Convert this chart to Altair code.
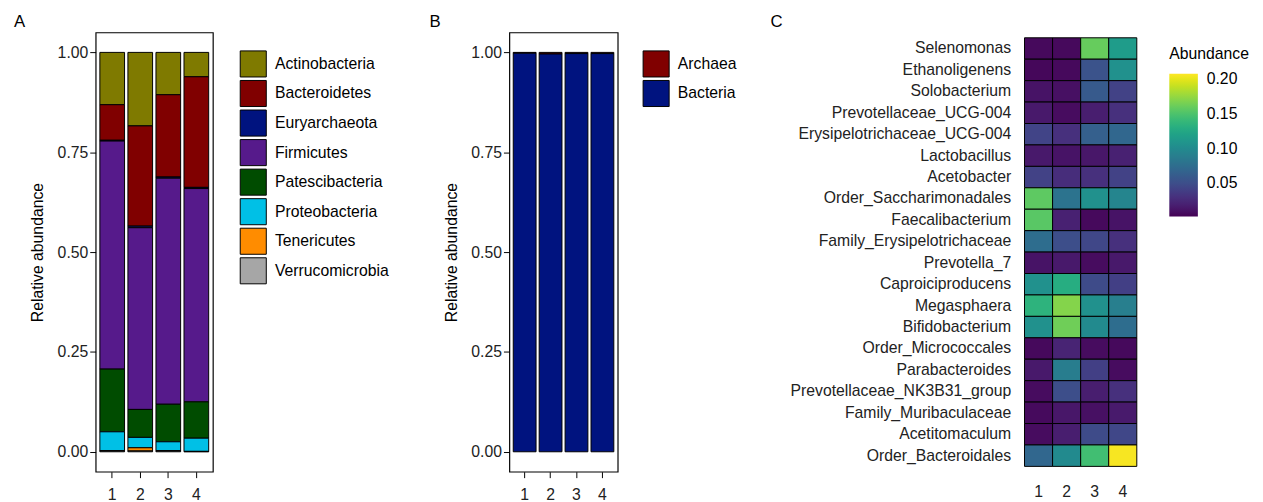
import altair as alt
import pandas as pd

samples = ["1", "2", "3", "4"]

# Panel A: phylum relative abundance (stack bottom -> top is reverse of list)
phyla = ["Actinobacteria", "Bacteroidetes", "Euryarchaeota", "Firmicutes",
         "Patescibacteria", "Proteobacteria", "Tenericutes", "Verrucomicrobia"]
phylum_colors = ["#7f7a00", "#800000", "#00137f", "#561a8b",
                 "#004c00", "#00c0e6", "#ff8c00", "#a6a6a6"]
actinobacteria = [0.131, 0.184, 0.106, 0.061]
bacteroidetes = [0.089, 0.251, 0.206, 0.277]
euryarchaeota = [0.002, 0.004, 0.003, 0.003]
firmicutes = [0.571, 0.455, 0.566, 0.534]
patescibacteria = [0.157, 0.070, 0.094, 0.091]
proteobacteria = [0.047, 0.026, 0.022, 0.033]
tenericutes = [0.001, 0.008, 0.001, 0.0005]
verrucomicrobia = [0.002, 0.002, 0.002, 0.0005]
phylum_values = [actinobacteria, bacteroidetes, euryarchaeota, firmicutes,
                 patescibacteria, proteobacteria, tenericutes, verrucomicrobia]

# Panel B: domain relative abundance
kingdoms = ["Archaea", "Bacteria"]
kingdom_colors = ["#800000", "#00137f"]
archaea = [0.002, 0.004, 0.003, 0.003]
bacteria = [0.998, 0.996, 0.997, 0.997]

# Panel C: genus heatmap
genera = ["Selenomonas", "Ethanoligenens", "Solobacterium", "Prevotellaceae_UCG-004",
          "Erysipelotrichaceae_UCG-004", "Lactobacillus", "Acetobacter",
          "Order_Saccharimonadales", "Faecalibacterium", "Family_Erysipelotrichaceae",
          "Prevotella_7", "Caproiciproducens", "Megasphaera", "Bifidobacterium",
          "Order_Micrococcales", "Parabacteroides", "Prevotellaceae_NK3B31_group",
          "Family_Muribaculaceae", "Acetitomaculum", "Order_Bacteroidales"]
abund_s1 = [0.006, 0.005, 0.012, 0.015, 0.043, 0.015, 0.042, 0.157, 0.155, 0.075,
            0.012, 0.105, 0.135, 0.105, 0.006, 0.015, 0.008, 0.007, 0.008, 0.070]
abund_s2 = [0.006, 0.006, 0.010, 0.008, 0.030, 0.012, 0.028, 0.080, 0.020, 0.050,
            0.015, 0.130, 0.170, 0.163, 0.022, 0.088, 0.050, 0.014, 0.018, 0.100]
abund_s3 = [0.160, 0.054, 0.060, 0.018, 0.064, 0.014, 0.030, 0.105, 0.006, 0.045,
            0.008, 0.048, 0.105, 0.100, 0.008, 0.040, 0.018, 0.010, 0.048, 0.145]
abund_s4 = [0.115, 0.105, 0.042, 0.030, 0.070, 0.020, 0.042, 0.095, 0.012, 0.030,
            0.015, 0.040, 0.090, 0.075, 0.006, 0.008, 0.030, 0.016, 0.045, 0.206]
abund_cols = [abund_s1, abund_s2, abund_s3, abund_s4]
legend_ticks = [0.05, 0.10, 0.15, 0.20]

FONT = "Liberation Sans"
TXT = "#222222"

rowsA = []
for i, (p, vals) in enumerate(zip(phyla, phylum_values)):
    for s, v in zip(samples, vals):
        rowsA.append({"Sample": s, "Phylum": p, "value": v, "ord": len(phyla) - i})
dfA = pd.DataFrame(rowsA)

rowsB = []
for i, (k, vals) in enumerate(zip(kingdoms, [archaea, bacteria])):
    for s, v in zip(samples, vals):
        rowsB.append({"Sample": s, "Kingdom": k, "value": v, "ord": len(kingdoms) - i})
dfB = pd.DataFrame(rowsB)

rowsC = []
for s, col in zip(samples, abund_cols):
    for g, v in zip(genera, col):
        rowsC.append({"Sample": s, "Genus": g, "Abundance": v})
dfC = pd.DataFrame(rowsC)


def y_axis():
    return alt.Axis(values=[0, 0.25, 0.5, 0.75, 1], format=".2f", title="Relative abundance",
                    titleFontSize=16, titleFontWeight="normal", titleColor="black",
                    labelFontSize=16, labelColor=TXT, tickSize=6, tickColor="black",
                    labelPadding=2, titlePadding=12, domain=False, grid=False)


def x_axis():
    return alt.Axis(title=None, labelAngle=0, labelFontSize=16, labelColor=TXT,
                    tickSize=6, tickColor="black", labelPadding=9, domain=False, grid=False)


def cat_legend(offset):
    return alt.Legend(title=None, symbolType="square", symbolSize=700,
                      symbolStrokeColor="black", symbolStrokeWidth=1, symbolOpacity=1,
                      labelFontSize=16, labelColor="black", rowPadding=-2.2,
                      padding=18, offset=offset, labelOffset=8)


def letter(t, dx):
    return alt.TitleParams(t, anchor="start", frame="group", dx=dx, fontSize=17,
                           fontWeight="normal", offset=2, color="black")


chartA = alt.Chart(dfA).mark_bar(stroke="black", strokeWidth=1).encode(
    x=alt.X("Sample:N", sort=samples, scale=alt.Scale(paddingInner=0.12, paddingOuter=0.15), axis=x_axis()),
    y=alt.Y("value:Q", stack="zero",
            scale=alt.Scale(domain=[-0.05, 1.05], nice=False, zero=False), axis=y_axis()),
    color=alt.Color("Phylum:N", scale=alt.Scale(domain=phyla, range=phylum_colors),
                    legend=cat_legend(9)),
    order=alt.Order("ord:Q", sort="ascending"),
).properties(width=119, height=446, title=letter("A", -83),
             view=alt.ViewBackground(stroke="black", strokeWidth=1.2))

chartB = alt.Chart(dfB).mark_bar(stroke="black", strokeWidth=1).encode(
    x=alt.X("Sample:N", sort=samples, scale=alt.Scale(paddingInner=0.12, paddingOuter=0.15), axis=x_axis()),
    y=alt.Y("value:Q", stack="zero",
            scale=alt.Scale(domain=[-0.05, 1.05], nice=False, zero=False), axis=y_axis()),
    color=alt.Color("Kingdom:N", scale=alt.Scale(domain=kingdoms, range=kingdom_colors),
                    legend=cat_legend(7)),
    order=alt.Order("ord:Q", sort="ascending"),
).properties(width=110, height=446, title=letter("B", -81),
             view=alt.ViewBackground(stroke="black", strokeWidth=1.2))

chartC = alt.Chart(dfC).mark_rect(stroke="black", strokeWidth=1).encode(
    x=alt.X("Sample:N", sort=samples, scale=alt.Scale(paddingInner=0, paddingOuter=0),
            axis=alt.Axis(title=None, labelAngle=0, ticks=False, domain=False, labelFontSize=16,
                          labelColor=TXT, labelPadding=12, grid=False)),
    y=alt.Y("Genus:N", sort=genera, scale=alt.Scale(paddingInner=0, paddingOuter=0.25),
            axis=alt.Axis(title=None, ticks=False, domain=False, labelFontSize=16,
                          labelColor=TXT, labelPadding=14, labelLimit=0, grid=False)),
    color=alt.Color("Abundance:Q", scale=alt.Scale(scheme="viridis", domain=[0.002, 0.208]),
                    legend=alt.Legend(type="gradient", direction="vertical", orient="none",
                                      legendX=147, legendY=14, gradientLength=145,
                                      gradientThickness=29, gradientStrokeWidth=0,
                                      values=legend_ticks, format=".2f",
                                      title="Abundance", titleFontSize=16,
                                      titleFontWeight="normal", titleColor="black",
                                      titlePadding=12, labelFontSize=16, labelColor="black",
                                      labelOffset=9)),
).properties(width=114, height=446, title=letter("C", -258),
             view=alt.ViewBackground(stroke="transparent"))

left = alt.hconcat(chartA, chartB, spacing=21).resolve_scale(color="independent")
chart = alt.hconcat(left, chartC, spacing=14).resolve_scale(color="independent").configure(
    font=FONT, padding={"left": 5, "top": 0, "right": 5, "bottom": 0}
).configure_view(stroke="transparent")

chart.save("out.html", embed_options={"renderer": "svg", "actions": False})
